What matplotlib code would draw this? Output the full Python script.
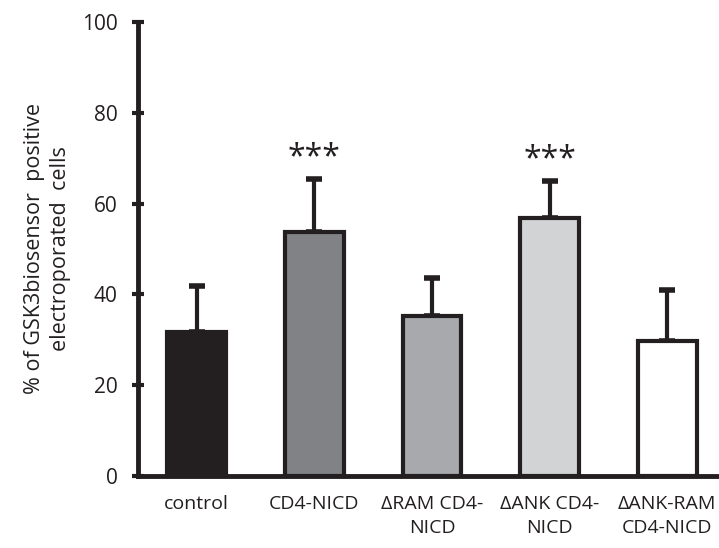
import matplotlib
matplotlib.use("Agg")
import matplotlib.pyplot as plt

plt.rcParams['font.family'] = ['Open Sans', 'DejaVu Sans']

labels = ["control", "CD4-NICD", "\u0394RAM CD4-\nNICD", "\u0394ANK CD4-\nNICD", "\u0394ANK-RAM\nCD4-NICD"]
means = [31.8, 53.7, 35.2, 56.8, 29.8]
errs = [10.0, 11.8, 8.4, 8.2, 11.2]
colors = ["#231f20", "#808285", "#a7a9ac", "#d1d3d4", "#ffffff"]
stars = ["", "***", "", "***", ""]
DARK = "#231f20"

fig = plt.figure(figsize=(7.19, 5.48), dpi=100)
ax = fig.add_axes([138/719, 72/548, 1 - 138/719, 454/548])

x = list(range(len(means)))
ax.bar(x, means, width=0.5, color=colors, edgecolor=DARK, linewidth=3, zorder=2)
ax.errorbar(x, means, yerr=[[0]*len(errs), errs], fmt='none', ecolor=DARK,
            elinewidth=3, capsize=6, capthick=4, zorder=1)
for xi, m, e, s in zip(x, means, errs, stars):
    if s:
        ax.text(xi, m + e + 1.0, s, ha='center', va='bottom', fontsize=23, color=DARK)

ax.set_xlim(-0.5, 4.44)
ax.set_ylim(0, 100)
ax.set_yticks([0, 20, 40, 60, 80, 100])
ax.set_xticks(x)
ax.set_xticklabels(labels, fontsize=14, color=DARK, linespacing=1.4)
ax.tick_params(axis='x', length=0, pad=14)
ax.tick_params(axis='y', direction='inout', length=9, width=3, color=DARK,
               labelsize=15, labelcolor=DARK, pad=10)
for side in ['top', 'right']:
    ax.spines[side].set_visible(False)
ax.spines['left'].set_linewidth(3.5)
ax.spines['bottom'].set_linewidth(3.5)
ax.spines['left'].set_color(DARK)
ax.spines['bottom'].set_color(DARK)
ax.set_ylabel("% of GSK3biosensor  positive\nelectroporated  cells", fontsize=15.5,
              color=DARK, linespacing=1.3, labelpad=8)

fig.savefig("out.png", dpi=100)
